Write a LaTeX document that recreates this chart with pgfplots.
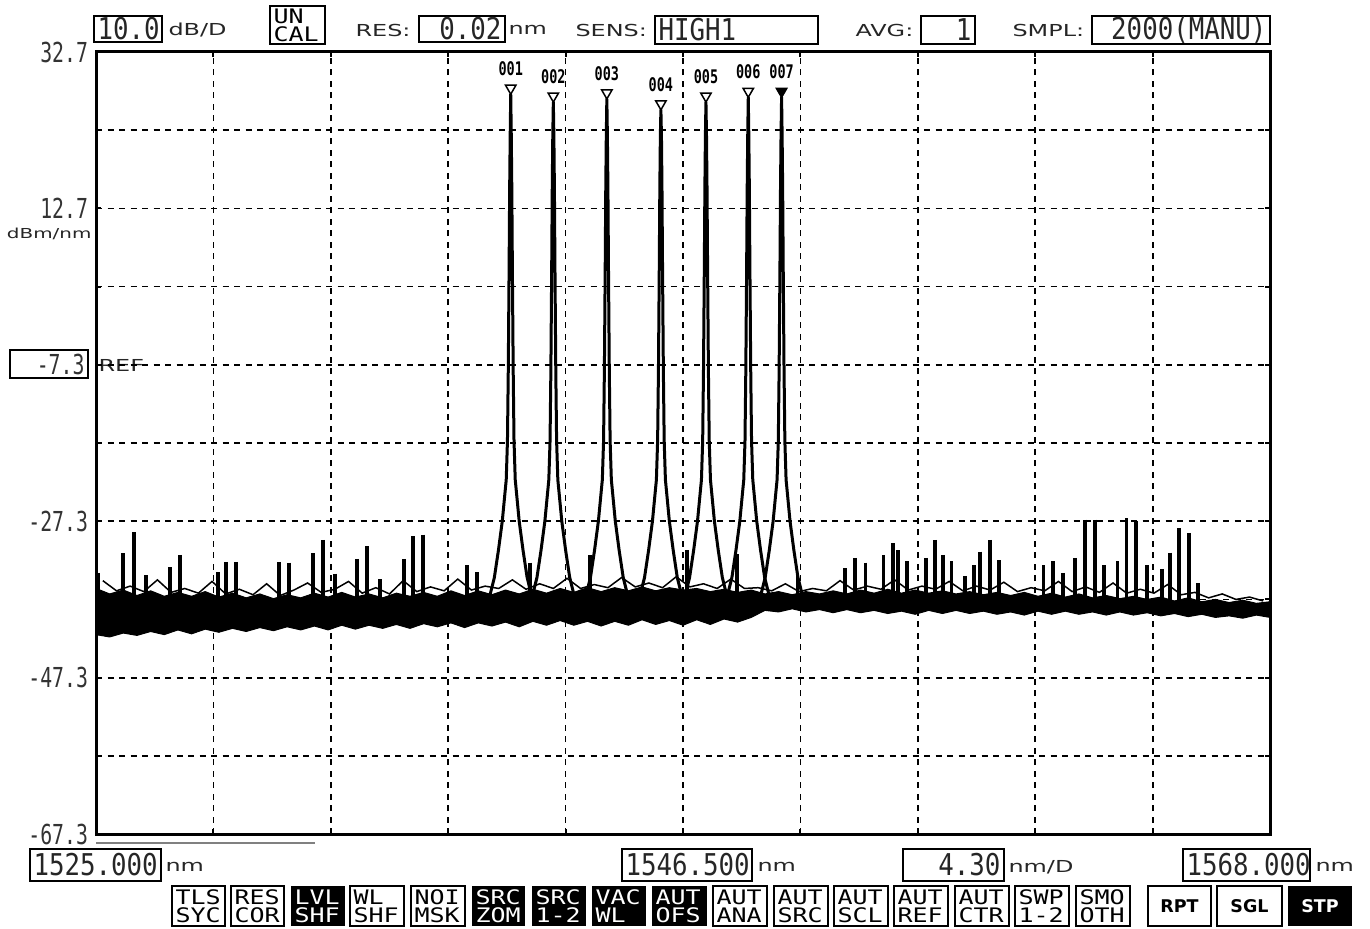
\documentclass[border=0pt]{standalone}
\usepackage{fontspec}
\setmainfont{DejaVu Sans}
\newfontfamily\lcd[FakeStretch=0.72]{DejaVu Sans Mono}
\newfontfamily\fld[FakeStretch=0.86]{DejaVu Sans Mono}
\newfontfamily\sml[FakeStretch=1.45]{DejaVu Sans}
\newfontfamily\btn[FakeStretch=1.25]{DejaVu Sans Mono}
\usepackage{pgfplots}
\pgfplotsset{compat=1.18}
\tikzset{
  fbox/.style={draw=black, line width=0.9pt},
  ftxt/.style={font=\fld\fontsize{12}{12}\selectfont, inner sep=0pt, text=black!85},
  ltxt/.style={font=\lcd\fontsize{11}{11}\selectfont, inner sep=0pt, text=black!80},
  stxt/.style={font=\sml\fontsize{6.6}{6.6}\selectfont, inner sep=0pt, text=black!85},
  btxt/.style={font=\btn\fontsize{8}{7.2}\selectfont, inner sep=0pt, align=left},
}
\begin{document}
\begin{tikzpicture}
\begin{scope}[x=0.4pt,y=-0.4pt]
\path[use as bounding box] (0,0) rectangle (1370,928);
% top row
\draw[fbox] (94,16) rectangle (162,42); \node[ftxt, anchor=west] at (97,29) {10.0};
\node[stxt, anchor=west] at (168,30) {dB/D};
\draw[fbox] (270,6) rectangle (325,44); \node[btxt, anchor=west] at (273,25) {UN\\CAL};
\node[stxt, anchor=west] at (355,30) {RES:};
\draw[fbox] (419,16) rectangle (505,42); \node[ftxt, anchor=east] at (502,29) {0.02};
\node[stxt, anchor=west] at (508,30) {nm};
\node[stxt, anchor=west] at (575,30) {SENS:};
\draw[fbox] (655,16) rectangle (818,44); \node[ftxt, anchor=west] at (658,30) {HIGH1};
\node[stxt, anchor=west] at (855,30) {AVG:};
\draw[fbox] (921,16) rectangle (975,44); \node[ftxt, anchor=east] at (972,30) {1};
\node[stxt, anchor=west] at (1012,30) {SMPL:};
\draw[fbox] (1092,16) rectangle (1270,44); \node[ftxt, anchor=east] at (1267,30) {2000(MANU)};
% left
\node[stxt, font=\sml\fontsize{5.5}{5.5}\selectfont, anchor=east] at (92,234) {dBm/nm};
\draw[fbox] (10,350) rectangle (88,378); \node[ltxt, anchor=east] at (85,364) {-7.3};
\node[stxt, anchor=west] at (98,365) {REF};
% bottom
\draw[gray, line width=0.6pt] (96,843) -- (315,843);
\draw[fbox] (30,849) rectangle (161,881); \node[ftxt, anchor=west] at (33,865) {1525.000};
\node[stxt, anchor=west] at (165,867) {nm};
\draw[fbox] (622,849) rectangle (752,881); \node[ftxt, anchor=west] at (625,865) {1546.500};
\node[stxt, anchor=west] at (757,867) {nm};
\draw[fbox] (903,849) rectangle (1004,881); \node[ftxt, anchor=east] at (1001,865) {4.30};
\node[stxt, anchor=west] at (1008,867) {nm/D};
\draw[fbox] (1183,849) rectangle (1310,881); \node[ftxt, anchor=west] at (1186,865) {1568.000};
\node[stxt, anchor=west] at (1315,867) {nm};
% buttons
\foreach \a/\b/\l/\m in {172/225/TLS/SYC,231/284/RES/COR,350/404/WL/SHF,411/465/NOI/MSK,713/767/AUT/ANA,774/828/AUT/SRC,834/888/AUT/SCL,894/948/AUT/REF,955/1009/AUT/CTR,1015/1069/SWP/1-2,1076/1130/SMO/OTH}{
  \draw[line width=0.8pt] (\a,886) rectangle (\b,926);
  \node[btxt, anchor=west] at (\a+3,906) {\l\\\m};
}
\foreach \a/\b/\l/\m in {291/345/LVL/SHF,472/525/SRC/ZOM,532/586/SRC/1-2,592/646/VAC/WL,652/707/AUT/OFS}{
  \fill[black] (\a,886) rectangle (\b,926);
  \node[btxt, anchor=west, text=white] at (\a+3,906) {\l\\\m};
}
\foreach \a/\b/\l in {1148/1211/RPT,1217/1282/SGL}{
  \draw[line width=0.8pt] (\a,886) rectangle (\b,926);
  \node[font=\bfseries\fontsize{7}{7}\selectfont, inner sep=0pt] at ({(\a+\b)/2},906) {\l};
}
\fill[black] (1288,886) rectangle (1352,926);
\node[font=\bfseries\fontsize{7}{7}\selectfont, inner sep=0pt, text=white] at (1320,906) {STP};
\end{scope}

\begin{axis}[
  at={(38.4pt,-333.6pt)}, anchor=south west,
  width=469.6pt, height=312.8pt, scale only axis,
  xmin=1525, xmax=1568, ymin=-67.3, ymax=32.7,
  xtick={1529.3,1533.6,1537.9,1542.2,1546.5,1550.8,1555.1,1559.4,1563.7},
  xticklabels={},
  ytick={-67.3,-57.3,-47.3,-37.3,-27.3,-17.3,-7.3,2.7,12.7,22.7,32.7},
  yticklabels={-67.3,,-47.3,,-27.3,,,,12.7,,32.7},
  yticklabel style={font=\lcd\fontsize{11}{11}\selectfont, text=black!80, inner sep=0pt, anchor=east, xshift=-3pt},
  grid=major,
  tick align=inside, major tick length=2pt,
  axis line style={line width=1.2pt},
  every tick/.style={black, line width=0.8pt},
  major grid style={black, line width=0.7pt, dash pattern=on 2.4pt off 2.2pt},
]
% noise floor band
\addplot[fill=black, draw=black, line width=0.4pt] coordinates {
(1525.0,-35.9)(1525.5,-36.6)(1526.0,-36.1)(1526.5,-36.8)(1527.0,-36.2)(1527.5,-36.9)(1528.0,-36.4)(1528.5,-36.9)
(1529.0,-36.3)(1529.5,-37.0)(1530.0,-36.5)(1530.5,-37.1)(1531.0,-36.6)(1531.5,-37.2)(1532.0,-36.7)(1532.5,-37.1)
(1533.0,-36.5)(1533.5,-37.0)(1534.0,-36.4)(1534.5,-37.0)(1535.0,-36.6)(1535.5,-37.1)(1536.0,-36.5)(1536.5,-36.9)
(1537.0,-36.4)(1537.5,-36.9)(1538.0,-36.2)(1538.5,-36.8)(1539.0,-36.2)(1539.5,-36.7)(1540.0,-36.1)(1540.5,-36.6)
(1541.0,-36.0)(1541.5,-36.5)(1542.0,-35.9)(1542.5,-36.4)(1543.0,-35.8)(1543.5,-36.3)(1544.0,-35.8)(1544.5,-36.2)
(1545.0,-35.7)(1545.5,-36.2)(1546.0,-35.8)(1546.5,-36.1)(1547.0,-35.9)(1547.5,-36.3)(1548.0,-36.0)(1548.5,-36.4)
(1549.0,-36.1)(1549.5,-36.6)(1550.0,-36.3)(1550.5,-36.7)(1551.0,-36.3)(1551.5,-36.6)(1552.0,-36.2)(1552.5,-36.6)
(1553.0,-36.1)(1553.5,-36.5)(1554.0,-36.0)(1554.5,-36.5)(1555.0,-36.1)(1555.5,-36.5)(1556.0,-36.2)(1556.5,-36.6)
(1557.0,-36.3)(1557.5,-36.7)(1558.0,-36.4)(1558.5,-36.8)(1559.0,-36.4)(1559.5,-36.9)(1560.0,-36.5)(1560.5,-37.0)
(1561.0,-36.6)(1561.5,-37.1)(1562.0,-36.8)(1562.5,-37.2)(1563.0,-36.9)(1563.5,-37.3)(1564.0,-37.0)(1564.5,-37.5)
(1565.0,-37.1)(1565.5,-37.6)(1566.0,-37.3)(1566.5,-37.7)(1567.0,-37.4)(1567.5,-37.8)(1568.0,-37.6)
(1568.0,-39.6)(1567.5,-39.3)(1567.0,-39.7)(1566.5,-39.4)(1566.0,-39.6)(1565.5,-39.2)(1565.0,-39.5)(1564.5,-39.1)
(1564.0,-39.4)(1563.5,-39.0)(1563.0,-39.3)(1562.5,-38.9)(1562.0,-39.3)(1561.5,-38.9)(1561.0,-39.2)(1560.5,-38.8)
(1560.0,-39.2)(1559.5,-38.8)(1559.0,-39.3)(1558.5,-38.9)(1558.0,-39.2)(1557.5,-38.8)(1557.0,-39.1)(1556.5,-38.7)
(1556.0,-39.1)(1555.5,-38.7)(1555.0,-39.2)(1554.5,-38.8)(1554.0,-39.1)(1553.5,-38.7)(1553.0,-39.0)(1552.5,-38.6)
(1552.0,-39.0)(1551.5,-38.6)(1551.0,-38.9)(1550.5,-38.5)(1550.0,-38.9)(1549.5,-38.7)(1549.0,-39.6)(1548.5,-40.2)
(1548.0,-39.8)(1547.5,-40.5)(1547.0,-39.9)(1546.5,-40.6)(1546.0,-40.0)(1545.5,-40.5)(1545.0,-39.9)(1544.5,-40.6)
(1544.0,-40.1)(1543.5,-40.7)(1543.0,-40.1)(1542.5,-40.6)(1542.0,-40.0)(1541.5,-40.6)(1541.0,-40.1)(1540.5,-40.8)
(1540.0,-40.2)(1539.5,-40.7)(1539.0,-40.3)(1538.5,-40.9)(1538.0,-40.3)(1537.5,-40.8)(1537.0,-40.4)(1536.5,-41.0)
(1536.0,-40.5)(1535.5,-41.0)(1535.0,-40.6)(1534.5,-41.1)(1534.0,-40.6)(1533.5,-41.2)(1533.0,-40.7)(1532.5,-41.2)
(1532.0,-40.8)(1531.5,-41.3)(1531.0,-40.9)(1530.5,-41.4)(1530.0,-41.0)(1529.5,-41.5)(1529.0,-41.1)(1528.5,-41.7)
(1528.0,-41.2)(1527.5,-41.8)(1527.0,-41.4)(1526.5,-41.9)(1526.0,-41.6)(1525.5,-42.1)(1525.0,-41.8)
};
% fuzz above the band
\addplot[black, line width=0.6pt] coordinates {
(1525.25,-34.9)(1525.75,-36.2)(1526.25,-35.6)(1526.75,-36.3)(1527.25,-34.8)(1527.75,-36.4)(1528.25,-35.9)(1528.75,-36.5)
(1529.25,-35.0)(1529.75,-36.6)(1530.25,-36.0)(1530.75,-36.7)(1531.25,-35.3)(1531.75,-36.8)(1532.25,-36.1)(1532.75,-35.2)
(1533.25,-36.4)(1533.75,-36.0)(1534.25,-35.0)(1534.75,-36.5)(1535.25,-35.8)(1535.75,-36.6)(1536.25,-34.9)(1536.75,-36.3)
(1537.25,-35.7)(1537.75,-36.2)(1538.25,-34.7)(1538.75,-36.1)(1539.25,-35.6)(1539.75,-35.9)(1540.25,-34.8)(1540.75,-36.0)
(1541.25,-35.3)(1541.75,-35.9)(1542.25,-34.6)(1542.75,-35.9)(1543.25,-35.4)(1543.75,-35.8)(1544.25,-34.5)(1544.75,-35.7)
(1545.25,-35.2)(1545.75,-35.8)(1546.25,-34.4)(1546.75,-35.7)(1547.25,-35.3)(1547.75,-35.9)(1548.25,-34.7)(1548.75,-35.9)
(1549.25,-35.8)(1549.75,-36.2)(1550.25,-35.3)(1550.75,-36.3)(1551.25,-35.9)(1551.75,-36.2)(1552.25,-34.9)(1552.75,-36.1)
(1553.25,-35.6)(1553.75,-36.0)(1554.25,-34.8)(1554.75,-36.1)(1555.25,-35.6)(1555.75,-36.0)(1556.25,-35.0)(1556.75,-36.2)
(1557.25,-35.6)(1557.75,-36.1)(1558.25,-35.1)(1558.75,-36.3)(1559.25,-35.8)(1559.75,-36.2)(1560.25,-35.0)(1560.75,-36.3)
(1561.25,-35.7)(1561.75,-36.4)(1562.25,-35.2)(1562.75,-36.5)(1563.25,-36.0)(1563.75,-36.5)(1564.25,-35.4)(1564.75,-36.7)
(1565.25,-36.4)(1565.75,-37.1)(1566.25,-36.6)(1566.75,-37.3)(1567.25,-37.0)(1567.75,-37.5)
};
% spurs: top level h, drawn down by e to the floor
\addplot[draw=none, mark=none,
  error bars/.cd, y dir=minus, y explicit, error mark=none,
  error bar style={draw=black, line width=1.3pt, solid}]
  table[x=x, y=h, y error=e] {
x h e
1525.07 -33.9 3.6
1525.99 -31.4 6.1
1526.39 -28.7 8.8
1526.83 -34.2 3.3
1527.71 -33.2 4.3
1528.08 -31.6 5.9
1529.47 -33.8 3.7
1529.76 -32.5 5.0
1530.13 -32.5 5.0
1531.70 -32.5 5.0
1532.07 -32.6 4.9
1532.95 -31.4 6.1
1533.31 -29.7 7.8
1533.75 -34.0 3.5
1534.56 -32.1 5.4
1534.93 -30.5 7.0
1535.40 -34.7 2.8
1536.28 -32.1 5.4
1536.61 -29.2 8.3
1536.98 -29.0 8.5
1538.59 -32.9 4.6
1538.95 -33.8 3.7
1540.90 -32.6 4.9
1543.09 -31.6 5.9
1546.65 -31.0 6.5
1548.48 -31.5 6.0
1550.68 -34.0 3.5
1552.43 -33.3 4.2
1552.80 -32.0 5.5
1553.17 -32.6 4.9
1553.83 -31.6 5.9
1554.19 -30.1 7.4
1554.37 -31.0 6.5
1554.70 -32.4 5.1
1555.40 -32.0 5.5
1555.73 -29.7 7.8
1556.02 -31.6 5.9
1556.32 -32.4 5.1
1556.83 -34.3 3.2
1557.16 -32.9 4.6
1557.38 -31.2 6.3
1557.74 -29.7 7.8
1558.07 -32.3 5.2
1559.69 -32.9 4.6
1560.05 -32.4 5.1
1560.42 -33.9 3.6
1560.86 -32.0 5.5
1561.22 -27.1 10.4
1561.59 -27.1 10.4
1561.92 -32.9 4.6
1562.40 -32.4 5.1
1562.73 -26.9 10.6
1563.09 -27.3 10.2
1563.49 -32.9 4.6
1564.04 -33.4 4.1
1564.34 -31.3 6.2
1564.67 -28.2 9.3
1565.03 -28.8 8.7
1565.36 -35.2 2.3
};
% the seven channel peaks
\pgfplotsset{peak/.style={black, line width=1.2pt, line join=round}}
\addplot[peak] coordinates {(1539.39,-37.3)(1539.59,-34.5)(1539.74,-31.0)(1539.88,-27.3)(1539.97,-24.0)(1540.025,-22.0)(1540.07,-17.0)(1540.10,-8.0)(1540.13,5.0)(1540.15,15.0)(1540.17,22.0)(1540.19,27.3)(1540.21,22.0)(1540.23,15.0)(1540.25,5.0)(1540.28,-8.0)(1540.31,-17.0)(1540.355,-22.0)(1540.41,-24.0)(1540.50,-27.3)(1540.64,-31.0)(1540.79,-34.5)(1540.99,-37.3)};
\addplot[peak] coordinates {(1540.95,-37.3)(1541.15,-34.5)(1541.30,-31.0)(1541.44,-27.3)(1541.53,-24.0)(1541.585,-22.0)(1541.63,-17.0)(1541.66,-8.0)(1541.69,5.0)(1541.71,15.0)(1541.73,22.0)(1541.75,26.3)(1541.77,22.0)(1541.79,15.0)(1541.81,5.0)(1541.84,-8.0)(1541.87,-17.0)(1541.915,-22.0)(1541.97,-24.0)(1542.06,-27.3)(1542.20,-31.0)(1542.35,-34.5)(1542.55,-37.3)};
\addplot[peak] coordinates {(1542.91,-37.3)(1543.11,-34.5)(1543.26,-31.0)(1543.40,-27.3)(1543.49,-24.0)(1543.545,-22.0)(1543.59,-17.0)(1543.62,-8.0)(1543.65,5.0)(1543.67,15.0)(1543.69,22.0)(1543.71,26.7)(1543.73,22.0)(1543.75,15.0)(1543.77,5.0)(1543.80,-8.0)(1543.83,-17.0)(1543.875,-22.0)(1543.93,-24.0)(1544.02,-27.3)(1544.16,-31.0)(1544.31,-34.5)(1544.51,-37.3)};
\addplot[peak] coordinates {(1544.89,-37.3)(1545.09,-34.5)(1545.24,-31.0)(1545.38,-27.3)(1545.47,-24.0)(1545.525,-22.0)(1545.57,-17.0)(1545.60,-8.0)(1545.63,5.0)(1545.65,15.0)(1545.67,22.0)(1545.69,25.3)(1545.71,22.0)(1545.73,15.0)(1545.75,5.0)(1545.78,-8.0)(1545.81,-17.0)(1545.855,-22.0)(1545.91,-24.0)(1546.00,-27.3)(1546.14,-31.0)(1546.29,-34.5)(1546.49,-37.3)};
\addplot[peak] coordinates {(1546.54,-37.3)(1546.74,-34.5)(1546.89,-31.0)(1547.03,-27.3)(1547.12,-24.0)(1547.175,-22.0)(1547.22,-17.0)(1547.25,-8.0)(1547.28,5.0)(1547.30,15.0)(1547.32,22.0)(1547.34,26.3)(1547.36,22.0)(1547.38,15.0)(1547.40,5.0)(1547.43,-8.0)(1547.46,-17.0)(1547.505,-22.0)(1547.56,-24.0)(1547.65,-27.3)(1547.79,-31.0)(1547.94,-34.5)(1548.14,-37.3)};
\addplot[peak] coordinates {(1548.09,-37.3)(1548.29,-34.5)(1548.44,-31.0)(1548.58,-27.3)(1548.67,-24.0)(1548.725,-22.0)(1548.77,-17.0)(1548.80,-8.0)(1548.83,5.0)(1548.85,15.0)(1548.87,22.0)(1548.89,26.9)(1548.91,22.0)(1548.93,15.0)(1548.95,5.0)(1548.98,-8.0)(1549.01,-17.0)(1549.055,-22.0)(1549.11,-24.0)(1549.20,-27.3)(1549.34,-31.0)(1549.49,-34.5)(1549.69,-37.3)};
\addplot[peak] coordinates {(1549.31,-37.3)(1549.51,-34.5)(1549.66,-31.0)(1549.80,-27.3)(1549.89,-24.0)(1549.945,-22.0)(1549.99,-17.0)(1550.02,-8.0)(1550.05,5.0)(1550.07,15.0)(1550.09,22.0)(1550.11,26.9)(1550.13,22.0)(1550.15,15.0)(1550.17,5.0)(1550.20,-8.0)(1550.23,-17.0)(1550.275,-22.0)(1550.33,-24.0)(1550.42,-27.3)(1550.56,-31.0)(1550.71,-34.5)(1550.91,-37.3)};
% markers
\addplot[only marks, mark=triangle*, mark size=2.4pt,
  mark options={yshift=2.4pt, rotate=180, fill=white, draw=black, line width=0.6pt},
  point meta=explicit symbolic, nodes near coords,
  every node near coord/.append style={font=\lcd\bfseries\fontsize{7.5}{7.5}\selectfont, anchor=south, inner sep=0pt, yshift=4.6pt, text=black}]
  table[meta=lab] {
x y lab
1540.19 27.3 001
1541.75 26.3 002
1543.71 26.7 003
1545.69 25.3 004
1547.34 26.3 005
1548.89 26.9 006
};
\addplot[only marks, mark=triangle*, mark size=2.4pt,
  mark options={yshift=2.4pt, rotate=180, fill=black, draw=black, line width=0.6pt},
  point meta=explicit symbolic, nodes near coords,
  every node near coord/.append style={font=\lcd\bfseries\fontsize{7.5}{7.5}\selectfont, anchor=south, inner sep=0pt, yshift=4.6pt, text=black}]
  table[meta=lab] {
x y lab
1550.11 26.9 007
};
\end{axis}
\end{tikzpicture}
\end{document}
